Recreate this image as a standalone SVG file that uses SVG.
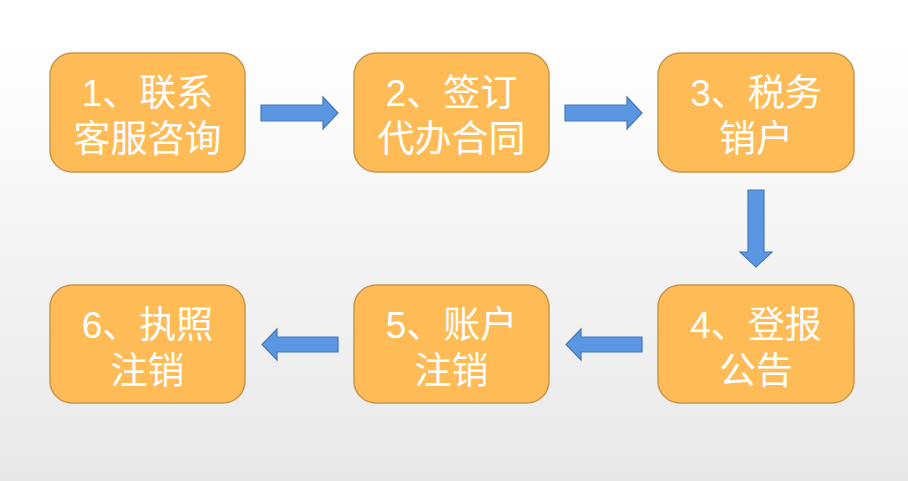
<svg xmlns="http://www.w3.org/2000/svg" width="908" height="481" viewBox="0 0 908 481">
<defs>
<linearGradient id="bg" x1="0" y1="0" x2="0" y2="1">
<stop offset="0" stop-color="#ffffff"/>
<stop offset="0.08" stop-color="#ffffff"/>
<stop offset="1" stop-color="#e8e8e8"/>
</linearGradient>
<style>
.box{fill:#ffbb55;stroke:#c8964c;stroke-width:1.5}
.t{fill:#ffffff;font-family:"Liberation Sans","Noto Sans CJK SC",sans-serif;font-size:37px;text-anchor:middle}
.arr{fill:#5b96e2;stroke:#4678b8;stroke-width:1.2}
</style>
</defs>
<rect x="0" y="0" width="908" height="481" fill="url(#bg)"/>
<g id="node1"><rect class="box" x="50" y="53" width="195" height="119" rx="22"/><text class="t" x="147.5" y="106">1、联系</text><text class="t" x="147.5" y="152">客服咨询</text></g>
<g id="node2"><rect class="box" x="354" y="53" width="195" height="119" rx="22"/><text class="t" x="451.5" y="106">2、签订</text><text class="t" x="451.5" y="152">代办合同</text></g>
<g id="node3"><rect class="box" x="658" y="53" width="196" height="119" rx="22"/><text class="t" x="756" y="106">3、税务</text><text class="t" x="756" y="152">销户</text></g>
<g id="node4"><rect class="box" x="658" y="285" width="196" height="118" rx="22"/><text class="t" x="756" y="338">4、登报</text><text class="t" x="756" y="384">公告</text></g>
<g id="node5"><rect class="box" x="354" y="285" width="195" height="118" rx="22"/><text class="t" x="451.5" y="338">5、账户</text><text class="t" x="451.5" y="384">注销</text></g>
<g id="node6"><rect class="box" x="50" y="285" width="195" height="118" rx="22"/><text class="t" x="147.5" y="338">6、执照</text><text class="t" x="147.5" y="384">注销</text></g>
<g id="connectors">
<path class="arr" d="M261 105 H323 V97 L338 113 L323 129 V121 H261 Z"/>
<path class="arr" d="M565 105 H627 V97 L642 113 L627 129 V121 H565 Z"/>
<path class="arr" d="M748 190 V252 H740 L756 267 L772 252 H764 V190 Z"/>
<path class="arr" d="M642 337 H581 V329 L566 344.5 L581 360 V352 H642 Z"/>
<path class="arr" d="M338 337 H277 V329 L262 344.5 L277 360 V352 H338 Z"/>
</g>
</svg>
